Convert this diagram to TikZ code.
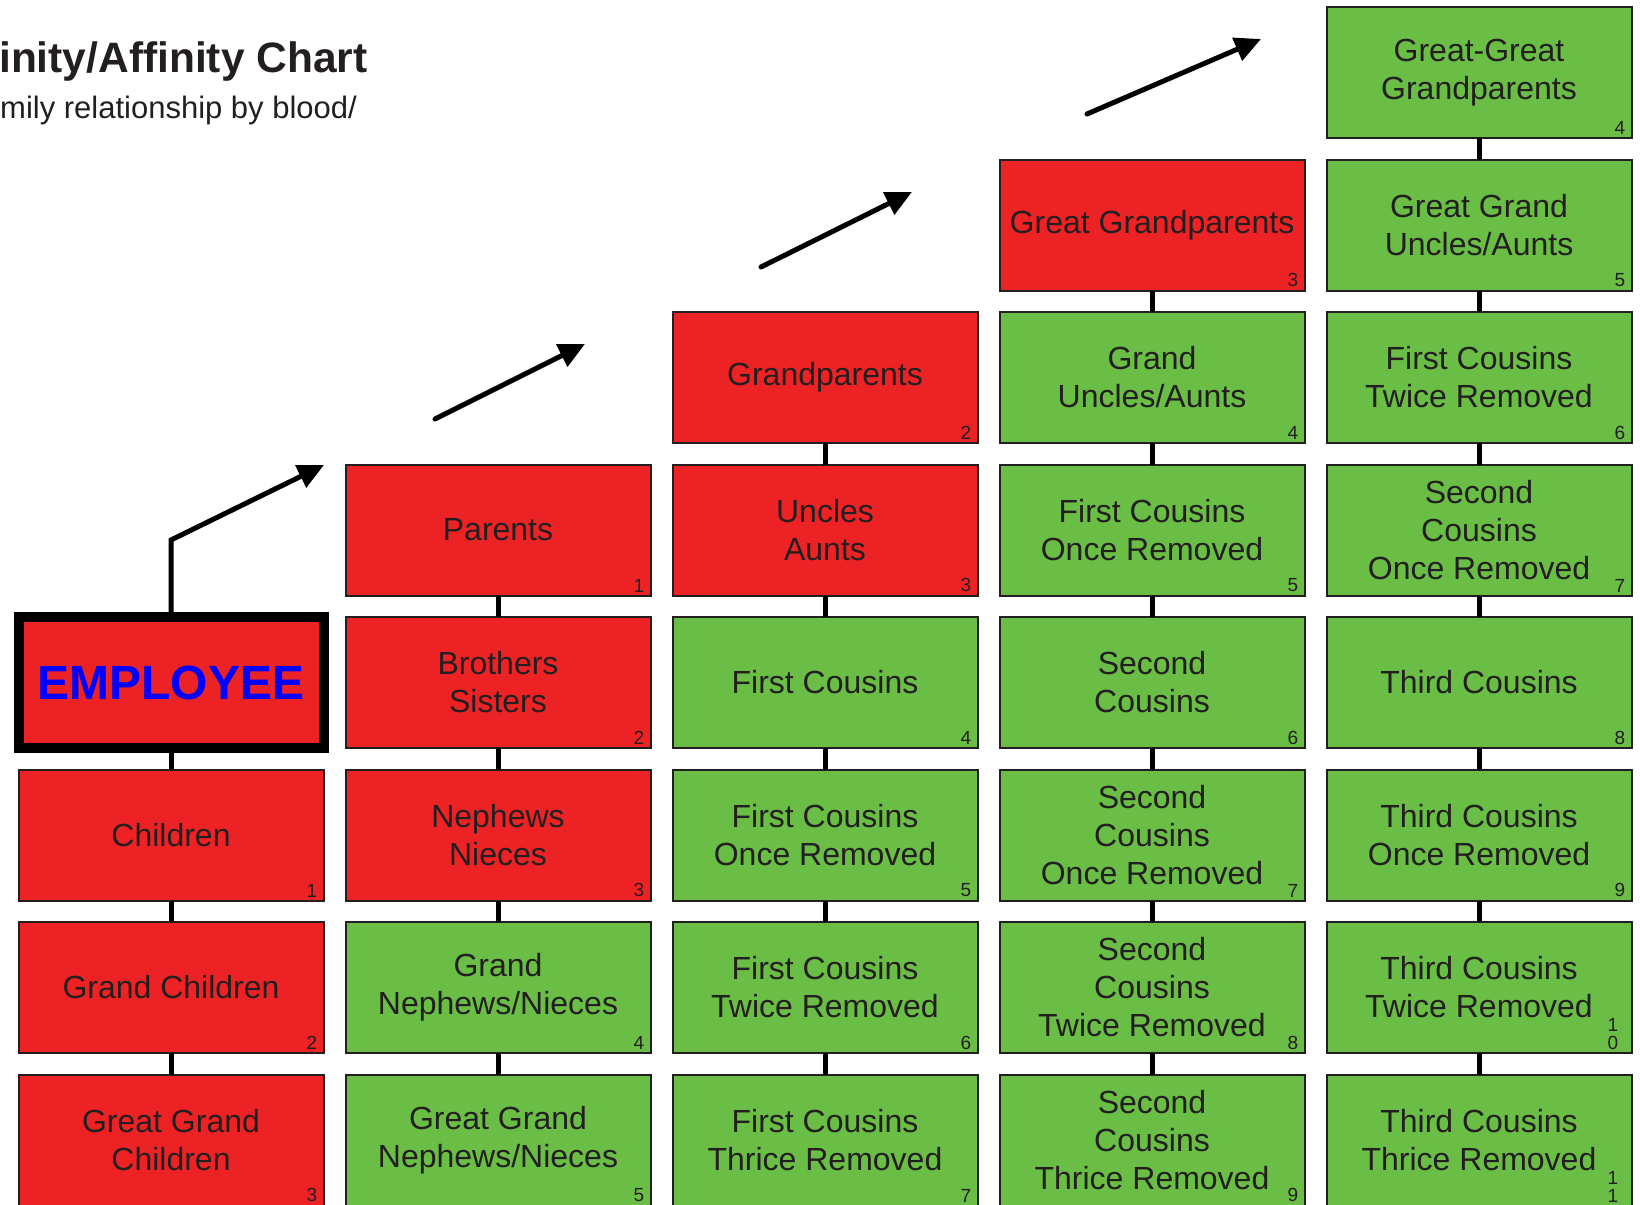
\documentclass[tikz,border=0pt]{standalone}
\usepackage{fontspec}
\setmainfont{Liberation Sans}
\usetikzlibrary{arrows.meta}
\definecolor{kred}{RGB}{237,34,36}
\definecolor{kgreen}{RGB}{106,189,69}
\definecolor{ktext}{RGB}{35,31,32}
\tikzset{
  relbox/.style={draw=ktext, line width=2pt, minimum width=305pt, minimum height=131pt,
    inner sep=0pt, outer sep=0pt, anchor=north west, align=center, text=ktext,
    font=\fontsize{32}{38}\selectfont},
  redbox/.style={relbox, fill=kred},
  greenbox/.style={relbox, fill=kgreen},
  empbox/.style={relbox, fill=kred, draw=black, line width=10pt, text=blue,
    font=\bfseries\fontsize{48}{50}\selectfont},
  numlabel/.style={anchor=south, inner sep=0pt, outer sep=0pt, text=ktext, align=center,
    font=\fontsize{19}{18}\selectfont},
  link/.style={line width=5pt, draw=black},
  climb/.style={line width=5pt, draw=black, line cap=round,
    -{Triangle[length=26pt,width=24pt]}},
  titletext/.style={anchor=base west, inner sep=0pt, text=ktext}
}
\newcommand{\relnode}[7][-11.5pt]{%
  \node[#5] (#2) at (#3,#4) {#6};
  \node[numlabel] (#2n) at ([xshift=#1,yshift=3.5pt]#2.south east) {#7};
}
\begin{document}
\begin{tikzpicture}[x=1pt,y=-1pt]
\useasboundingbox (0,0) rectangle (1640,1204);
\clip (0,0) rectangle (1640,1204);

% title
\node[titletext, font=\bfseries\fontsize{42.5}{50}\selectfont] (title) at (-1,72.5) {inity/Affinity Chart};
\node[titletext, font=\fontsize{31}{36}\selectfont] (subtitle) at (0,118.5) {mily relationship by blood/};

% column 1
\node[empbox] (c1r4) at (18.5,617) {EMPLOYEE};
\relnode{c1r5}{18.5}{769.5}{redbox}{Children}{1}
\relnode{c1r6}{18.5}{922}{redbox}{Grand Children}{2}
\relnode{c1r7}{18.5}{1074.5}{redbox}{Great Grand\\Children}{3}

% column 2
\relnode{c2r3}{345.5}{464.5}{redbox}{Parents}{1}
\relnode{c2r4}{345.5}{617}{redbox}{Brothers\\Sisters}{2}
\relnode{c2r5}{345.5}{769.5}{redbox}{Nephews\\Nieces}{3}
\relnode{c2r6}{345.5}{922}{greenbox}{Grand\\Nephews/Nieces}{4}
\relnode{c2r7}{345.5}{1074.5}{greenbox}{Great Grand\\Nephews/Nieces}{5}

% column 3
\relnode{c3r2}{672.5}{312}{redbox}{Grandparents}{2}
\relnode{c3r3}{672.5}{464.5}{redbox}{Uncles\\Aunts}{3}
\relnode{c3r4}{672.5}{617}{greenbox}{First Cousins}{4}
\relnode{c3r5}{672.5}{769.5}{greenbox}{First Cousins\\Once Removed}{5}
\relnode{c3r6}{672.5}{922}{greenbox}{First Cousins\\Twice Removed}{6}
\relnode{c3r7}{672.5}{1074.5}{greenbox}{First Cousins\\Thrice Removed}{7}

% column 4
\relnode{c4r1}{999.5}{159.5}{redbox}{Great Grandparents}{3}
\relnode{c4r2}{999.5}{312}{greenbox}{Grand\\Uncles/Aunts}{4}
\relnode{c4r3}{999.5}{464.5}{greenbox}{First Cousins\\Once Removed}{5}
\relnode{c4r4}{999.5}{617}{greenbox}{Second\\Cousins}{6}
\relnode{c4r5}{999.5}{769.5}{greenbox}{Second\\Cousins\\Once Removed}{7}
\relnode{c4r6}{999.5}{922}{greenbox}{Second\\Cousins\\Twice Removed}{8}
\relnode{c4r7}{999.5}{1074.5}{greenbox}{Second\\Cousins\\Thrice Removed}{9}

% column 5
\relnode{c5r0}{1326.5}{7}{greenbox}{Great-Great\\Grandparents}{4}
\relnode{c5r1}{1326.5}{159.5}{greenbox}{Great Grand\\Uncles/Aunts}{5}
\relnode{c5r2}{1326.5}{312}{greenbox}{First Cousins\\Twice Removed}{6}
\relnode{c5r3}{1326.5}{464.5}{greenbox}{Second\\Cousins\\Once Removed}{7}
\relnode{c5r4}{1326.5}{617}{greenbox}{Third Cousins}{8}
\relnode{c5r5}{1326.5}{769.5}{greenbox}{Third Cousins\\Once Removed}{9}
\relnode[-18.5pt]{c5r6}{1326.5}{922}{greenbox}{Third Cousins\\Twice Removed}{1\\0}
\relnode[-18.5pt]{c5r7}{1326.5}{1074.5}{greenbox}{Third Cousins\\Thrice Removed}{1\\1}

% vertical links
\foreach \a/\b in {c1r4/c1r5, c1r5/c1r6, c1r6/c1r7,
                   c2r3/c2r4, c2r4/c2r5, c2r5/c2r6, c2r6/c2r7,
                   c3r2/c3r3, c3r3/c3r4, c3r4/c3r5, c3r5/c3r6, c3r6/c3r7,
                   c4r1/c4r2, c4r2/c4r3, c4r3/c4r4, c4r4/c4r5, c4r5/c4r6, c4r6/c4r7,
                   c5r0/c5r1, c5r1/c5r2, c5r2/c5r3, c5r3/c5r4, c5r4/c5r5, c5r5/c5r6, c5r6/c5r7}
  \draw[link] (\a.south) -- (\b.north);

% climbing arrows
\coordinate (a1k) at (171,540);
\coordinate (a1e) at (324,465);
\draw[climb, line cap=butt] (c1r4.north) -- (a1k) -- (a1e);
\coordinate (a2s) at (435,419);
\coordinate (a2e) at (585,344);
\draw[climb] (a2s) -- (a2e);
\coordinate (a3s) at (761,267);
\coordinate (a3e) at (912,192);
\draw[climb] (a3s) -- (a3e);
\coordinate (a4s) at (1087,114);
\coordinate (a4e) at (1261,39);
\draw[climb] (a4s) -- (a4e);
\end{tikzpicture}
\end{document}
